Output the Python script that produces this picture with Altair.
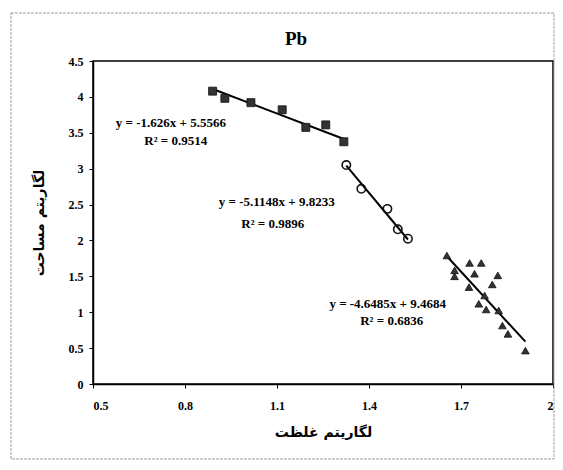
import altair as alt
import pandas as pd

# ---- data ----
sq_x = [0.890, 0.930, 1.015, 1.117, 1.194, 1.259, 1.318]
sq_y = [4.08, 3.98, 3.92, 3.82, 3.575, 3.61, 3.375]
ci_x = [1.326, 1.375, 1.460, 1.494, 1.527]
ci_y = [3.05, 2.72, 2.44, 2.155, 2.025]
tr_x = [1.654, 1.728, 1.766, 1.679, 1.679, 1.744, 1.820, 1.802, 1.726, 1.777,
        1.758, 1.782, 1.823, 1.835, 1.853, 1.910]
tr_y = [1.79, 1.686, 1.686, 1.583, 1.50, 1.536, 1.513, 1.387, 1.35, 1.233,
        1.117, 1.038, 1.024, 0.814, 0.698, 0.465]

slopes = [-1.626, -5.1148, -4.6485]
intercepts = [5.5566, 9.8233, 9.4684]
eq_labels = ["y = -1.626x + 5.5566", "y = -5.1148x + 9.8233", "y = -4.6485x + 9.4684"]
r2_labels = ["R² = 0.9514", "R² = 0.9896", "R² = 0.6836"]
eq_x = [0.754, 1.099, 1.461]
eq_y = [3.63, 2.54, 1.117]
r2_x = [0.770, 1.086, 1.474]
r2_y = [3.38, 2.235, 0.88]

x_ticks = [0.5, 0.8, 1.1, 1.4, 1.7, 2.0]
y_ticks = [0, 0.5, 1, 1.5, 2, 2.5, 3, 3.5, 4, 4.5]

title_text = "Pb"
x_title = "لگاریتم غلظت"
y_title = "لگاریتم مساحت"

# ---- tables ----
sq_df = pd.DataFrame({"x": sq_x, "y": sq_y})
ci_df = pd.DataFrame({"x": ci_x, "y": ci_y})
tr_df = pd.DataFrame({"x": tr_x, "y": tr_y})

series_x = [sq_x, ci_x, tr_x]
line_rows = []
for i, xs_ in enumerate(series_x):
    for xv in (min(xs_), max(xs_)):
        line_rows.append({"g": i, "x": xv, "y": slopes[i] * xv + intercepts[i]})
line_df = pd.DataFrame(line_rows)

txt_df = pd.DataFrame({
    "x": eq_x + r2_x,
    "y": eq_y + r2_y,
    "t": eq_labels + r2_labels,
})

serif = "Liberation Serif"

xs = alt.Scale(domain=[0.5, 2.0], nice=False, zero=False)
ys = alt.Scale(domain=[0, 4.5], nice=False, zero=False)

X = alt.X("x:Q", scale=xs, title=x_title,
          axis=alt.Axis(values=x_ticks, format="~g", grid=False, tickSize=4,
                        labelOverlap=False, labelPadding=12, titlePadding=14))
Y = alt.Y("y:Q", scale=ys, title=y_title,
          axis=alt.Axis(values=y_ticks, format="~g", grid=False, tickSize=4,
                        labelOverlap=False, labelPadding=6, titlePadding=22))

dummy = pd.DataFrame({"a": [0]})

frame = alt.Chart(dummy).mark_rect(
    filled=False, stroke="#9a9a9a", strokeWidth=1, strokeDash=[3, 1], clip=False
).encode(x=alt.value(-82), x2=alt.value(461), y=alt.value(-48), y2=alt.value(398))

title_mark = alt.Chart(dummy).mark_text(
    text=title_text, font=serif, fontSize=19, fontWeight="bold", color="black",
    align="center", baseline="middle", clip=False
).encode(x=alt.value(203), y=alt.value(-22))

squares = alt.Chart(sq_df).mark_point(
    shape="square", filled=True, size=64, color="#333333", stroke="#111", strokeWidth=0.8, opacity=1
).encode(x=X, y=Y)

circles = alt.Chart(ci_df).mark_point(
    shape="circle", filled=False, size=70, color="#111", strokeWidth=1.6, opacity=1
).encode(x=X, y=Y)

triangles = alt.Chart(tr_df).mark_point(
    shape="triangle-up", filled=True, size=58, color="#333333", stroke="#111", strokeWidth=0.8, opacity=1
).encode(x=X, y=Y)

lines = alt.Chart(line_df).mark_line(color="black", strokeWidth=2).encode(
    x=X, y=Y, detail="g:N"
)

texts = alt.Chart(txt_df).mark_text(
    font=serif, fontSize=13, fontWeight="bold", color="black", align="center", baseline="middle"
).encode(x=X, y=Y, text="t:N")

chart = alt.layer(frame, title_mark, lines, squares, circles, triangles, texts).properties(
    width=460,
    height=323,
    background="white",
    autosize=alt.AutoSizeParams(type="none"),
    padding={"left": 85, "top": 53, "right": 2, "bottom": 76},
).configure_view(
    stroke="black", strokeWidth=1.5
).configure_axis(
    domainColor="black", domainWidth=1.5, tickColor="black", tickWidth=1,
    labelFont=serif, labelFontSize=12, labelFontWeight="bold", labelColor="black",
    titleFont="DejaVu Sans", titleFontSize=14, titleFontWeight="bold", titleColor="black",
)

chart.save("out.html", embed_options={"renderer": "svg", "actions": False})
